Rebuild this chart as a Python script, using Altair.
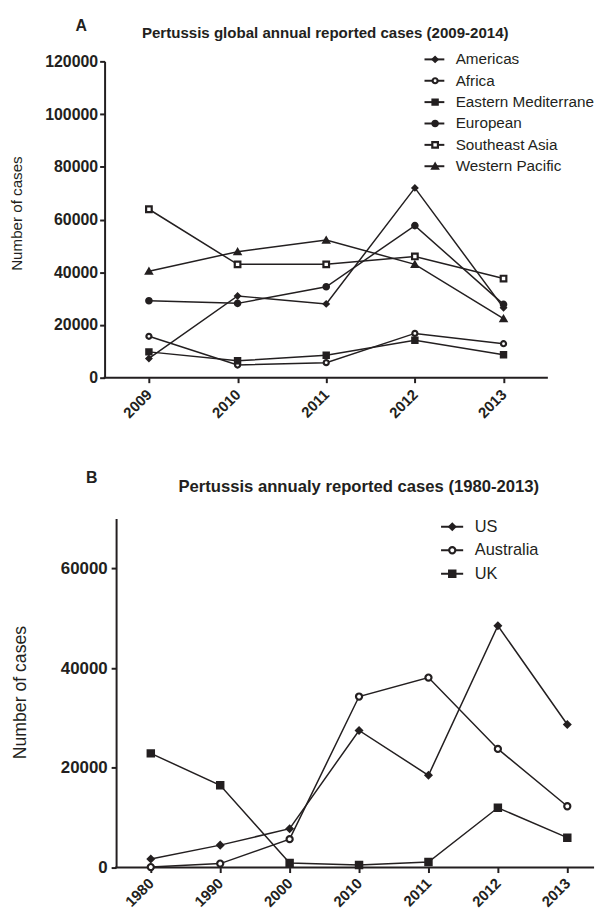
import altair as alt
import pandas as pd

INK = "#231f20"
FONT = "Liberation Sans"

# ---------------- texts ----------------
panel_letters = ["A", "B"]
title_a = "Pertussis global annual reported cases (2009-2014)"
title_b = "Pertussis annualy reported cases (1980-2013)"
y_title = "Number of cases"

# ---------------- Panel A data ----------------
years_a = ["2009", "2010", "2011", "2012", "2013"]
regions = ["Americas", "Africa", "Eastern Mediterranean", "European",
           "Southeast Asia", "Western Pacific"]
americas = [7300, 31000, 28000, 72000, 26500]
africa = [15700, 4800, 5700, 16800, 12900]
east_med = [9800, 6400, 8500, 14200, 8700]
european = [29200, 28200, 34500, 57700, 27800]
se_asia = [63900, 43000, 43000, 46000, 37600]
w_pacific = [40400, 47800, 52200, 43000, 22400]
yticks_a = [0, 20000, 40000, 60000, 80000, 100000, 120000]

# ---------------- Panel B data ----------------
years_b = ["1980", "1990", "2000", "2010", "2011", "2012", "2013"]
countries = ["US", "Australia", "UK"]
us = [1700, 4500, 7800, 27500, 18500, 48500, 28700]
australia = [100, 800, 5700, 34300, 38100, 23800, 12300]
uk = [22900, 16500, 900, 500, 1100, 12000, 6000]
yticks_b = [0, 20000, 40000, 60000]

# marker styles
shapes_a = ["diamond", "circle", "square", "circle", "square", "triangle-up"]
fills_a = [INK, "white", INK, INK, "white", INK]
sizes_a = [24, 40, 45, 20, 62, 42]
shapes_b = ["diamond", "circle", "square"]
fills_b = [INK, "white", INK]
sizes_b = [26, 76, 72]


def long_df(names, series_vals, years):
    rows = []
    for name, vals in zip(names, series_vals):
        for yr, v in zip(years, vals):
            rows.append({"series": name, "year": yr, "cases": v})
    return pd.DataFrame(rows)


dfa = long_df(regions, [americas, africa, east_med, european, se_asia, w_pacific], years_a)
dfb = long_df(countries, [us, australia, uk], years_b)


def panel(df, years, names, shapes, fills, sizes, ymax, yticks, w, h, shift, axis_len,
          title, letter, tick_fs, xtick_fs, xlabel_pad, ytitle_fs, title_fs,
          legend_fs, legend_limit,
          title_xy, letter_xy, leg_line, leg_pt, leg_txt_x, leg_y0, leg_dy,
          y_label_pad, y_title_pad, y_title_y):
    # 'shift' moves the plot frame to the left of the group origin;
    # the category scale spans w, the drawn frame spans axis_len
    x = alt.X("year:O", sort=years,
              scale=alt.Scale(domain=years, padding=0.5, range=[-shift, w - shift]),
              axis=alt.Axis(title=None, labelAngle=-45, labelAlign="right",
                            labelBaseline="middle", labelFontSize=xtick_fs,
                            labelFontWeight="bold", labelFont=FONT,
                            labelColor=INK, labelPadding=xlabel_pad, tickSize=5,
                            tickWidth=2, tickColor=INK, domain=False,
                            grid=False))
    y = alt.Y("cases:Q", scale=alt.Scale(domain=[0, ymax], nice=False, zero=True),
              axis=alt.Axis(values=yticks, format="d", title=y_title,
                            offset=shift,
                            titleFont=FONT, titleFontSize=ytitle_fs,
                            titleFontWeight="normal", titleColor=INK,
                            titlePadding=y_title_pad, titleY=y_title_y,
                            labelFontSize=tick_fs, labelFontWeight="bold",
                            labelFont=FONT, labelColor=INK,
                            labelPadding=y_label_pad, tickSize=5, tickWidth=2,
                            tickColor=INK, domainColor=INK, domainWidth=2,
                            grid=False))
    shape = alt.Shape("series:N", scale=alt.Scale(domain=names, range=shapes), legend=None)
    fill = alt.Fill("series:N", scale=alt.Scale(domain=names, range=fills), legend=None)
    size = alt.Size("series:N", scale=alt.Scale(domain=names, range=sizes), legend=None)

    lines = alt.Chart(df).mark_line(color=INK, strokeWidth=1.5).encode(
        x=x, y=y, detail="series:N")
    pts = alt.Chart(df).mark_point(opacity=1, fillOpacity=1, stroke=INK,
                                   strokeWidth=2.2).encode(
        x=x, y=y, shape=shape, fill=fill, size=size)

    # x axis base line
    base = alt.Chart(pd.DataFrame({"k": [0]})).mark_rule(
        color=INK, strokeWidth=2).encode(
        x=alt.value(-shift - 1), x2=alt.value(axis_len - shift), y=alt.value(h))

    leg = pd.DataFrame({"series": names, "idx": list(range(len(names)))})
    leg_base = alt.Chart(leg).transform_calculate(
        ly=f"{leg_y0} + datum.idx * {leg_dy}")
    ly = alt.Y("ly:Q", scale=None, axis=None)
    leg_rule = leg_base.mark_rule(color=INK, strokeWidth=2).encode(
        x=alt.value(leg_line[0] - shift), x2=alt.value(leg_line[1] - shift), y=ly)
    leg_pts = leg_base.mark_point(opacity=1, fillOpacity=1, stroke=INK,
                                  strokeWidth=2.2).encode(
        x=alt.value(leg_pt - shift), y=ly, shape=shape, fill=fill, size=size)
    leg_txt = leg_base.mark_text(align="left", baseline="middle", font=FONT,
                                 fontSize=legend_fs, color=INK,
                                 limit=legend_limit, ellipsis="\u200b").encode(
        x=alt.value(leg_txt_x - shift), y=ly, text="series:N")

    labels = pd.DataFrame({"t": [letter, title], "k": ["letter", "title"]})
    let = alt.Chart(labels).transform_filter("datum.k == 'letter'").mark_text(
        font=FONT, fontSize=16, fontWeight="bold", color=INK,
        align="center", baseline="middle").encode(
        x=alt.value(letter_xy[0] - shift), y=alt.value(letter_xy[1]), text="t:N")
    ttl = alt.Chart(labels).transform_filter("datum.k == 'title'").mark_text(
        font=FONT, fontSize=title_fs, fontWeight="bold", color=INK,
        align="center", baseline="middle").encode(
        x=alt.value(title_xy[0] - shift), y=alt.value(title_xy[1]), text="t:N")

    return alt.layer(base, lines, pts, leg_rule, leg_pts, leg_txt, let, ttl).properties(
        width=axis_len - shift, height=h)


# positions below are relative to each panel's own plot frame (left, top)
top = panel(dfa, years_a, regions, shapes_a, fills_a, sizes_a, 120000, yticks_a,
            447, 319, 11.6, 447, title_a, panel_letters[0],
            16, 15, 9, 15.3, 15.2, 15.4, 141,
            (222.5, -28.7), (-23.5, -36),
            (322.6, 342.6), 333.3, 354, -2, 21.55,
            2, 20, 153)
bottom = panel(dfb, years_b, countries, shapes_b, fills_b, sizes_b, 70000, yticks_b,
               490, 352, 0, 482, title_b, panel_letters[1],
               17, 15, 8, 17.8, 16.8, 16.5, 200,
               (244.7, -32), (-24.5, -41),
               (327.7, 350), 339, 361.7, 8.3, 23.7,
               4, 31, 175)

chart = alt.vconcat(top, bottom, spacing=49).properties(
    padding={"left": 2, "top": 6, "right": 0, "bottom": 0},
    background="white",
).configure_view(strokeWidth=0)

chart.save("out.html", embed_options={"renderer": "svg", "actions": False})
